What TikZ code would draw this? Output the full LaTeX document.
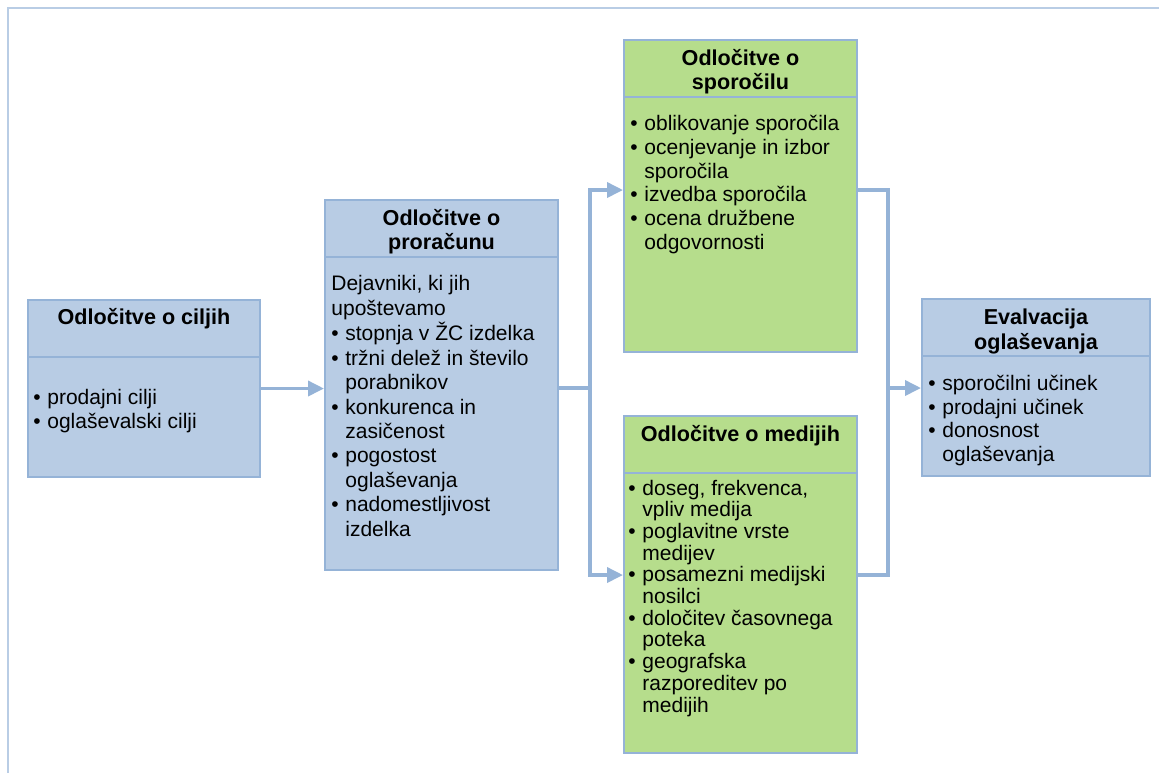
\documentclass[tikz,border=0pt]{standalone}
\usepackage{fontspec}
\setmainfont{Liberation Sans}
\usepackage{xcolor}
\usetikzlibrary{positioning,
	fit,
	calc,
	arrows.meta}
\definecolor{boxblue}{HTML}{B8CCE4}
\definecolor{boxgreen}{HTML}{B6DD8C}
\definecolor{edgeblue}{HTML}{95B3D7}
\definecolor{frameblue}{HTML}{B9CDE5}
\newcommand{\li}{\makebox[7pt][l]{\textbullet}}
\newcommand{\lc}{\hspace*{7pt}}
\newcommand{\leftlines}[1]{\begin{tabular}[t]{@{}l@{}}#1\end{tabular}}
\newcommand{\centerlines}[1]{\begin{tabular}[t]{@{}c@{}}#1\end{tabular}}

\begin{document}
\begin{tikzpicture}[x=0.5pt, y=-0.5pt,
	block/.style={draw=edgeblue, line width=1pt, fill=boxblue, inner sep=0pt},
	greenblock/.style={block, fill=boxgreen},
	head/.style={anchor=base, inner sep=0pt, font=\fontsize{10.8}{12.2}\selectfont\bfseries},
	list/.style={anchor=base west, inner sep=0pt, font=\fontsize{10.5}{12.2}\selectfont},
	link/.style={draw=edgeblue, line width=1.8pt},
	headarrow/.style={-{Triangle[length=8pt, width=7.5pt]}},
	twoarrow/.style={{Triangle[length=8pt, width=7.5pt]}-{Triangle[length=8pt, width=7.5pt]}}]
	\useasboundingbox (0,0) rectangle (1159,773);
	\draw[frameblue, line width=1.4pt] (8,773) -- (8,8) -- (1159,8);

	\node[block, fit={(28,300) (260,477)}] (goals) {};
	\node[block, fit={(325,200) (558,570)}] (budget) {};
	\node[greenblock, fit={(624,40) (857,352)}] (message) {};
	\node[greenblock, fit={(624,416) (857,753)}] (media) {};
	\node[block, fit={(922,299) (1150,476)}] (evaluation) {};
	\foreach \b in {goals, budget, message, media, evaluation} {
		\draw[edgeblue, line width=1pt] ([yshift=-29pt]\b.north west) -- ([yshift=-29pt]\b.north east);
	}

	\node[head] (goals head) at ([yshift=-12.8pt]goals.north) {\centerlines{Odločitve o ciljih}};
	\node[head] (budget head) at ([yshift=-13pt]budget.north) {\centerlines{Odločitve o\\proračunu}};
	\node[head] (message head) at ([yshift=-13pt]message.north) {\centerlines{Odločitve o\\sporočilu}};
	\node[head] (media head) at ([yshift=-13.4pt]media.north) {\centerlines{Odločitve o medijih}};
	\node[head] (evaluation head) at ([yshift=-13.4pt]evaluation.north) {\centerlines{Evalvacija\\oglaševanja}};

	\node[list, font=\fontsize{10.5}{12}\selectfont] (goals list) at ([xshift=3pt, yshift=-52.5pt]goals.north west)
		{\leftlines{\li prodajni cilji\\ \li oglaševalski cilji}};
	\node[list] (budget list) at ([xshift=3.5pt, yshift=-45.9pt]budget.north west)
		{\leftlines{Dejavniki, ki jih\\ upoštevamo\\ \li stopnja v ŽC izdelka\\ \li tržni delež in število\\ \lc porabnikov\\
		\li konkurenca in\\ \lc zasičenost\\ \li pogostost\\ \lc oglaševanja\\ \li nadomestljivost\\ \lc izdelka}};
	\node[list, font=\fontsize{10.5}{11.85}\selectfont] (message list) at ([xshift=3.5pt, yshift=-45.9pt]message.north west)
		{\leftlines{\li oblikovanje sporočila\\ \li ocenjevanje in izbor\\ \lc sporočila\\ \li izvedba sporočila\\
		\li ocena družbene\\ \lc odgovornosti}};
	\node[list, font=\fontsize{10.5}{10.8}\selectfont] (media list) at ([xshift=2.5pt, yshift=-40pt]media.north west)
		{\leftlines{\li doseg, frekvenca,\\ \lc vpliv medija\\ \li poglavitne vrste\\ \lc medijev\\ \li posamezni medijski\\ \lc nosilci\\
		\li določitev časovnega\\ \lc poteka\\ \li geografska\\ \lc razporeditev po\\ \lc medijih}};
	\node[list, font=\fontsize{10.5}{11.75}\selectfont] (evaluation list) at ([xshift=3.5pt, yshift=-46.4pt]evaluation.north west)
		{\leftlines{\li sporočilni učinek\\ \li prodajni učinek\\ \li donosnost\\ \lc oglaševanja}};

	\coordinate (fork) at (590,388);
	\coordinate (fork top) at (590,190);
	\coordinate (fork bottom) at (590,575);
	\coordinate (join) at (888,388);
	\coordinate (join top) at (888,190);
	\coordinate (join bottom) at (888,575);

	\draw[link, headarrow] (goals.east) -- (goals.east -| budget.west);
	\draw[link] (fork -| budget.east) -- (fork);
	\draw[link, twoarrow] (fork top -| message.west) -- (fork top) -- (fork bottom) -- (fork bottom -| media.west);
	\draw[link] (join top -| message.east) -- (join top) -- (join bottom) -- (join bottom -| media.east);
	\draw[link, headarrow] (join) -- (join -| evaluation.west);
\end{tikzpicture}
\end{document}
